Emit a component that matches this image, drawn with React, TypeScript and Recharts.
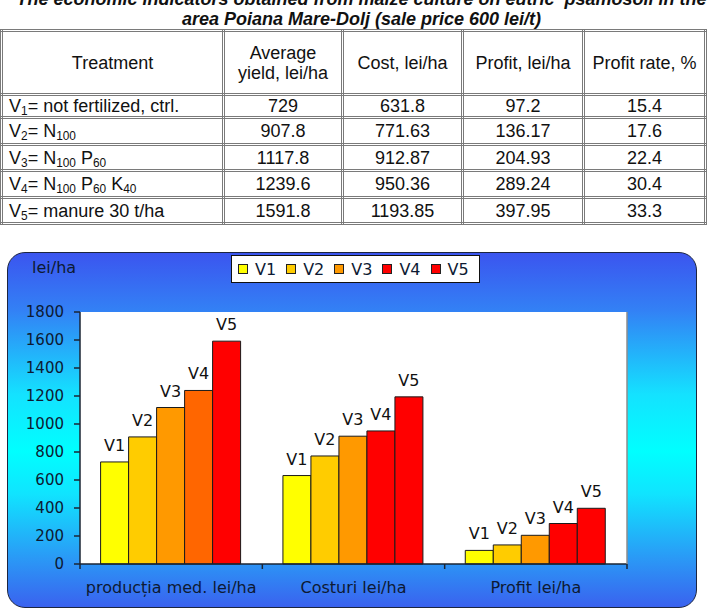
import React from 'react';
import { BarChart, Bar, XAxis, YAxis, CartesianGrid, LabelList, Cell, Text } from 'recharts';

// table / chart values
const treatments = [
  'V_{1}= not fertilized, ctrl.',
  'V_{2}= N_{100}',
  'V_{3}= N_{100} P_{60}',
  'V_{4}= N_{100} P_{60} K_{40}',
  'V_{5}= manure 30 t/ha',
];
const yieldValues = [729, 907.8, 1117.8, 1239.6, 1591.8];
const costValues = [631.8, 771.63, 912.87, 950.36, 1193.85];
const profitValues = [97.2, 136.17, 204.93, 289.24, 397.95];
const profitRate = [15.4, 17.6, 22.4, 30.4, 33.3];

const categories = ['producția med. lei/ha', 'Costuri lei/ha', 'Profit lei/ha'];
const seriesNames = ['V1', 'V2', 'V3', 'V4', 'V5'];
const yTicks = [0, 200, 400, 600, 800, 1000, 1200, 1400, 1600, 1800];

const seriesColors = ['#ffff00', '#ffcc00', '#ff9900', '#ff0000', '#ff0000'];
// the V4 bar of the first group is drawn in orange-red
const v4Colors = ['#ff6600', '#ff0000', '#ff0000'];

const data = [yieldValues, costValues, profitValues].map((vals, i) => {
  const row: Record<string, string | number> = { name: categories[i] };
  seriesNames.forEach((s, j) => { row[s] = vals[j]; });
  return row;
});

const CHART_FONT = '"DejaVu Sans", sans-serif';
const TEXT_DARK = '#0d1a33';
const AXIS_COLOR = '#1b2433';
const X_TICK_SIZE = 6;
const X_TICK_MARGIN = 12;

function withSubs(text: string) {
  const parts = text.split(/(_\{[^}]*\})/);
  return parts.map((p, i) =>
    p.startsWith('_{') ? (
      <sub key={i} style={{ fontSize: '0.66em', verticalAlign: '-0.28em', lineHeight: 0 }}>{p.slice(2, -1)}</sub>
    ) : (
      <span key={i}>{p}</span>
    )
  );
}

const border = '3px double #7a7a7a';
const colWidths = [222, 119, 120, 121, 122];
const rowHeights = [23, 27, 26, 27, 26];

function DataTable() {
  const cell: React.CSSProperties = { border, padding: '0 4px', textAlign: 'center', lineHeight: '20px' };
  return (
    <table
      style={{
        position: 'absolute', left: 0, top: 29, width: 706, borderCollapse: 'collapse', tableLayout: 'fixed',
        fontFamily: '"Liberation Sans", Arial, sans-serif', fontSize: 18, color: '#111',
      }}
    >
      <colgroup>
        {colWidths.map((w, i) => <col key={i} style={{ width: w }} />)}
      </colgroup>
      <tbody>
        <tr style={{ height: 64 }}>
          <td style={cell}>Treatment</td>
          <td style={cell}>Average<br />yield, lei/ha</td>
          <td style={cell}>Cost, lei/ha</td>
          <td style={cell}>Profit, lei/ha</td>
          <td style={cell}>Profit rate, %</td>
        </tr>
        {treatments.map((t, i) => (
          <tr key={i} style={{ height: rowHeights[i] }}>
            <td style={{ ...cell, textAlign: 'left', paddingLeft: 6, whiteSpace: 'nowrap' }}>{withSubs(t)}</td>
            <td style={cell}>{yieldValues[i]}</td>
            <td style={cell}>{costValues[i]}</td>
            <td style={cell}>{profitValues[i]}</td>
            <td style={cell}>{profitRate[i]}</td>
          </tr>
        ))}
      </tbody>
    </table>
  );
}

function Legend() {
  return (
    <div
      style={{
        position: 'absolute', left: 231, top: 255, width: 241, height: 26, background: '#fff',
        border: '1px solid #111', display: 'flex', alignItems: 'center', paddingLeft: 6,
        fontFamily: CHART_FONT, fontSize: 16, color: TEXT_DARK,
      }}
    >
      {seriesNames.map((s, i) => (
        <div key={s} style={{ display: 'flex', alignItems: 'center', marginRight: 10 }}>
          <span style={{ width: 8, height: 8, border: '1px solid #222', background: seriesColors[i], marginRight: 7 }} />
          <span>{s}</span>
        </div>
      ))}
    </div>
  );
}

// category label plus the small tick marks on the category boundaries
function CategoryTick(props: any) {
  const { x, y, payload, index } = props;
  const axisY = y - X_TICK_SIZE - X_TICK_MARGIN;
  const half = payload?.offset ?? 0;
  const marks = index === 0 ? [x - half, x + half] : [x + half];
  return (
    <g>
      {half > 0 && marks.map((bx, k) => (
        <line key={k} x1={bx} x2={bx} y1={axisY} y2={axisY + 5} stroke={AXIS_COLOR} strokeWidth={1.5} />
      ))}
      <Text x={x} y={y} textAnchor="middle" verticalAnchor="start" fill={TEXT_DARK} fontSize={16} fontFamily={CHART_FONT}>
        {payload.value}
      </Text>
    </g>
  );
}

export default function App() {
  return (
    <div style={{ position: 'absolute', left: 0, top: 0, width: 707, height: 609, overflow: 'hidden', background: '#fff' }}>
      <div
        style={{
          position: 'absolute', left: 0, top: -11, width: 723, textAlign: 'center', whiteSpace: 'pre',
          fontFamily: '"Liberation Sans", Arial, sans-serif', fontSize: 18, lineHeight: '20px',
          fontWeight: 'bold', fontStyle: 'italic', color: '#111',
        }}
      >
        {'The economic indicators obtained from maize culture on eutric  psamosoil in the'}
        <br />
        {'area Poiana Mare-Dolj (sale price 600 lei/t)'}
      </div>

      <DataTable />

      <div
        style={{
          position: 'absolute', left: 7, top: 252, width: 688, height: 354, borderRadius: 18,
          border: '1px solid #1c2540',
          background: 'linear-gradient(to bottom, #3b55ef 0%, #3380f5 16%, #14e2ff 40%, #00ffff 56%, #10e4ff 68%, #2a9af6 86%, #3a62ef 100%)',
        }}
      />
      <div
        style={{
          position: 'absolute', left: 32, top: 259, fontFamily: CHART_FONT, fontSize: 16, lineHeight: '18px', color: TEXT_DARK,
        }}
      >
        lei/ha
      </div>
      <Legend />

      <div style={{ position: 'absolute', left: 7, top: 252 }}>
        <BarChart
          width={690}
          height={357}
          data={data}
          margin={{ top: 60, right: 69, bottom: 15, left: 13 }}
          barCategoryGap="11.3%"
          barGap={0}
        >
          <CartesianGrid fill="#ffffff" stroke="none" horizontal={false} vertical={false} />
          <XAxis
            dataKey="name"
            interval={0}
            height={30}
            tickLine={false}
            tickSize={X_TICK_SIZE}
            tickMargin={X_TICK_MARGIN}
            axisLine={{ stroke: AXIS_COLOR, strokeWidth: 1.5 }}
            tick={CategoryTick}
          />
          <YAxis
            domain={[0, 1800]}
            ticks={yTicks}
            width={60}
            tickSize={6}
            tickMargin={10}
            axisLine={{ stroke: AXIS_COLOR, strokeWidth: 1.5 }}
            tickLine={{ stroke: AXIS_COLOR, strokeWidth: 1.5 }}
            tick={{ fill: TEXT_DARK, fontSize: 15, fontFamily: CHART_FONT }}
          />
          <YAxis
            yAxisId="r"
            orientation="right"
            domain={[0, 1800]}
            ticks={yTicks}
            width={1}
            tickLine={false}
            tickFormatter={() => ''}
            axisLine={{ stroke: '#8c8c8c', strokeWidth: 1.5 }}
          />
          {seriesNames.map((s, i) => (
            <Bar key={s} dataKey={s} fill={seriesColors[i]} stroke="#1a1a1a" strokeWidth={1} isAnimationActive={false}>
              {s === 'V4' && data.map((_, k) => <Cell key={k} fill={v4Colors[k]} />)}
              <LabelList
                position="top"
                offset={11}
                formatter={() => s}
                fill="#111"
                fontSize={16}
                fontFamily={CHART_FONT}
              />
            </Bar>
          ))}
        </BarChart>
      </div>
    </div>
  );
}
